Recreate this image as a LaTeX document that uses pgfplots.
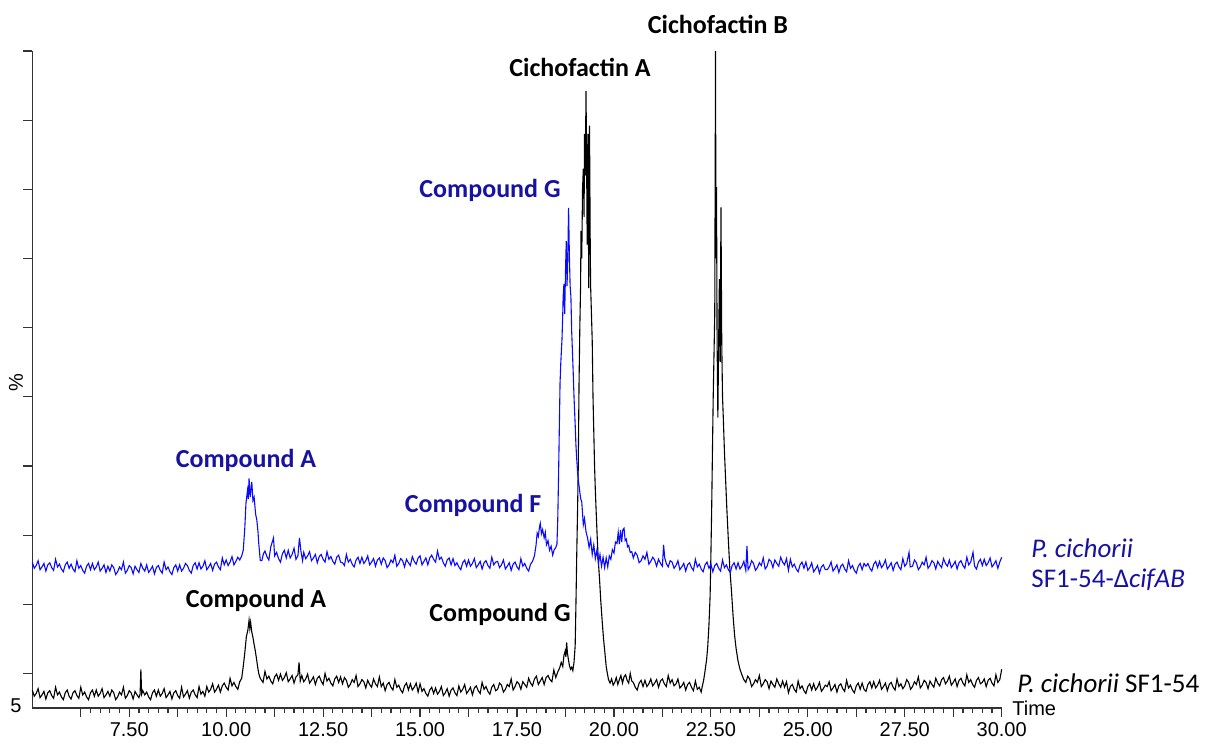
\documentclass[border=0pt]{standalone}
\usepackage{fontspec}
\setmainfont{Liberation Sans}
\newfontfamily\carlito{Carlito}
\usepackage{pgfplots}
\pgfplotsset{compat=1.18}
\definecolor{lblblue}{RGB}{24,18,160}
\definecolor{trblue}{RGB}{10,10,255}

\begin{document}
\begin{tikzpicture}
\path[use as bounding box] (0,0) rectangle (604.5pt,372pt);
\begin{axis}[
  at={(16.15pt,18pt)}, anchor=south west,
  scale only axis,
  width=484.7pt, height=328.5pt,
  xmin=5, xmax=30, ymin=5, ymax=100,
  axis x line*=bottom, axis y line*=left,
  axis line style={black!80, line width=0.7pt},
  xtick={6.25,7.5,...,30},
  xticklabels={,7.50,,10.00,,12.50,,15.00,,17.50,,20.00,,22.50,,25.00,,27.50,,30.00},
  minor x tick num=4,
  ytick={10,20,...,100},
  yticklabels={},
  tick align=outside,
  major tick length=4.5pt, minor tick length=2.6pt,
  every tick/.style={black!80, line width=0.6pt},
  xticklabel style={font=\fontsize{10}{12}\selectfont, yshift=1pt},
  clip=false,
]
% P. cichorii SF1-54 (black)
\addplot[black, line width=0.55pt] coordinates {
(5.00,7.6)(5.05,6.7)(5.10,7.1)(5.15,7.8)(5.20,6.5)(5.25,6.9)(5.30,7.4)(5.35,6.3)(5.40,7.2)(5.45,7.5)
(5.50,6.8)(5.55,6.4)(5.60,8.0)(5.65,6.9)(5.70,7.3)(5.75,6.6)(5.80,6.2)(5.85,7.2)(5.90,7.6)(5.95,6.7)
(6.00,6.3)(6.05,7.2)(6.10,7.5)(6.15,6.8)(6.20,6.4)(6.25,8.0)(6.30,6.9)(6.35,7.3)(6.40,6.6)(6.45,6.2)
(6.50,7.2)(6.55,7.6)(6.60,6.7)(6.65,7.6)(6.70,6.7)(6.75,7.1)(6.80,7.8)(6.85,6.5)(6.90,6.9)(6.95,7.4)
(7.00,6.7)(7.05,7.6)(7.10,7.2)(7.15,6.2)(7.20,6.6)(7.25,7.3)(7.30,6.9)(7.35,8.0)(7.40,6.4)(7.45,6.8)
(7.50,7.5)(7.55,7.2)(7.60,6.3)(7.65,7.4)(7.70,6.9)(7.75,6.5)(7.78,7.0)(7.80,10.6)(7.82,7.0)(7.85,7.5)
(7.90,6.9)(7.95,7.3)(8.00,6.6)(8.05,6.2)(8.10,7.2)(8.15,7.6)(8.20,6.7)(8.25,7.6)(8.30,6.7)(8.35,7.1)
(8.40,7.8)(8.45,6.5)(8.50,6.9)(8.55,7.4)(8.60,6.3)(8.65,7.2)(8.70,7.5)(8.75,6.8)(8.80,6.4)(8.85,8.0)
(8.90,6.6)(8.95,7.0)(9.00,7.5)(9.05,6.4)(9.10,7.3)(9.15,7.6)(9.20,6.9)(9.25,6.5)(9.30,8.1)(9.35,7.0)
(9.40,7.4)(9.45,6.7)(9.50,8.1)(9.55,7.3)(9.60,7.7)(9.65,8.5)(9.70,7.3)(9.75,7.7)(9.80,8.3)(9.85,7.3)
(9.90,8.2)(9.95,8.6)(10.00,8.0)(10.05,7.6)(10.10,9.3)(10.15,8.2)(10.20,8.7)(10.25,8.1)(10.30,7.7)(10.35,8.8)
(10.40,9.3)(10.44,11.0)(10.48,13.0)(10.52,15.3)(10.56,16.3)(10.59,17.7)(10.61,16.5)(10.63,17.4)(10.66,16.0)(10.69,15.2)
(10.72,14.2)(10.75,13.3)(10.78,12.2)(10.81,11.0)(10.84,10.0)(10.87,9.4)(10.90,9.1)(10.95,8.7)(11.00,10.3)(11.05,9.2)
(11.10,9.6)(11.15,8.9)(11.20,8.5)(11.25,9.5)(11.30,9.9)(11.35,9.0)(11.40,9.9)(11.45,9.0)(11.50,9.4)(11.55,10.1)
(11.60,8.8)(11.65,9.2)(11.70,9.7)(11.75,8.6)(11.80,9.5)(11.85,9.8)(11.88,11.6)(11.91,8.9)(11.95,9.7)(12.00,8.8)
(12.05,9.2)(12.10,9.9)(12.15,8.6)(12.20,9.0)(12.25,9.5)(12.30,8.4)(12.35,9.3)(12.40,9.6)(12.45,8.9)(12.50,8.4)
(12.55,10.0)(12.60,8.9)(12.65,9.3)(12.70,8.6)(12.75,8.2)(12.80,9.2)(12.85,9.6)(12.90,8.7)(12.95,9.5)(13.00,8.5)
(13.05,9.4)(13.10,9.0)(13.15,8.0)(13.20,8.4)(13.25,9.1)(13.30,8.7)(13.35,9.7)(13.40,8.1)(13.45,8.5)(13.50,9.1)
(13.55,8.8)(13.60,7.9)(13.65,9.0)(13.70,8.4)(13.75,8.0)(13.80,9.2)(13.85,8.5)(13.90,8.1)(13.95,9.5)(14.00,8.1)
(14.05,8.6)(14.10,7.5)(14.15,8.4)(14.20,8.7)(14.25,8.0)(14.30,7.6)(14.35,9.1)(14.40,8.0)(14.45,8.3)(14.50,7.6)
(14.55,7.2)(14.60,8.2)(14.65,8.6)(14.70,7.6)(14.75,8.5)(14.80,7.6)(14.85,8.0)(14.90,8.6)(14.95,7.3)(15.00,8.5)
(15.05,7.4)(15.10,7.8)(15.15,7.1)(15.20,6.7)(15.25,7.6)(15.30,8.0)(15.35,7.1)(15.40,7.9)(15.45,7.0)(15.50,7.4)
(15.55,8.1)(15.60,6.8)(15.65,7.2)(15.70,7.8)(15.75,6.7)(15.80,7.6)(15.85,7.9)(15.90,7.2)(15.95,6.8)(16.00,8.2)
(16.05,7.3)(16.10,7.7)(16.15,8.4)(16.20,7.1)(16.25,7.5)(16.30,8.0)(16.35,6.9)(16.40,7.9)(16.45,8.2)(16.50,7.5)
(16.55,7.1)(16.60,8.7)(16.65,7.7)(16.70,8.1)(16.75,7.4)(16.80,7.0)(16.85,8.0)(16.90,8.4)(16.95,7.5)(17.00,7.7)
(17.05,8.6)(17.10,8.3)(17.15,7.3)(17.20,7.7)(17.25,8.4)(17.30,8.1)(17.35,9.2)(17.40,7.6)(17.45,8.1)(17.50,8.8)
(17.55,8.5)(17.60,7.7)(17.65,8.8)(17.70,8.4)(17.75,8.0)(17.80,9.3)(17.85,8.6)(17.90,8.2)(17.95,9.2)(18.00,9.6)
(18.05,8.4)(18.10,8.9)(18.15,9.4)(18.20,8.4)(18.25,9.4)(18.30,9.7)(18.35,9.1)(18.40,8.8)(18.45,10.5)(18.50,9.4)
(18.55,10.2)(18.60,10.8)(18.64,11.6)(18.68,11.0)(18.71,12.6)(18.74,13.2)(18.76,12.4)(18.78,14.5)(18.80,13.0)(18.82,12.2)
(18.85,11.2)(18.88,10.6)(18.91,10.9)(18.94,10.4)(18.97,11.6)(19.00,14.0)(19.02,20.0)(19.04,27.0)(19.06,33.0)(19.08,40.0)
(19.10,52.0)(19.12,60.0)(19.14,66.0)(19.15,74.0)(19.17,70.0)(19.19,80.0)(19.21,83.0)(19.23,76.0)(19.24,88.0)(19.26,82.0)
(19.28,94.2)(19.30,80.0)(19.31,72.0)(19.33,88.0)(19.35,65.7)(19.37,89.2)(19.39,70.6)(19.40,65.7)(19.42,62.0)(19.44,58.0)
(19.46,50.0)(19.48,45.0)(19.50,40.0)(19.52,36.5)(19.54,33.6)(19.57,29.5)(19.60,26.0)(19.63,23.5)(19.66,20.5)(19.70,17.3)
(19.73,15.1)(19.77,12.8)(19.80,11.0)(19.83,10.0)(19.86,9.1)(19.90,8.6)(19.94,9.2)(19.98,8.3)(20.02,8.7)(20.06,9.4)
(20.10,8.4)(20.14,9.1)(20.18,9.7)(20.22,8.6)(20.26,9.5)(20.30,9.8)(20.34,9.0)(20.38,8.6)(20.42,10.0)(20.46,8.9)
(20.50,8.7)(20.55,8.0)(20.60,7.6)(20.65,8.6)(20.70,9.0)(20.75,8.1)(20.80,9.0)(20.85,8.1)(20.90,8.5)(20.95,9.2)
(21.00,8.2)(21.05,8.6)(21.10,9.1)(21.15,8.0)(21.20,8.9)(21.25,9.2)(21.30,8.5)(21.35,8.1)(21.40,9.7)(21.45,8.6)
(21.50,9.1)(21.55,8.2)(21.60,8.5)(21.65,9.2)(21.70,7.9)(21.75,8.2)(21.80,8.7)(21.85,7.6)(21.90,8.4)(21.95,8.7)
(22.00,8.0)(22.05,7.5)(22.10,8.9)(22.15,7.7)(22.20,8.0)(22.25,7.3)(22.28,8.2)(22.31,8.9)(22.34,10.0)(22.37,11.2)
(22.39,12.0)(22.42,14.0)(22.45,17.0)(22.48,21.2)(22.50,27.0)(22.52,33.6)(22.54,42.0)(22.56,50.0)(22.58,56.0)(22.60,62.0)
(22.62,100.0)(22.63,70.0)(22.645,80.3)(22.66,58.0)(22.68,47.0)(22.70,58.0)(22.72,67.0)(22.74,55.0)(22.76,77.4)(22.78,58.0)
(22.80,50.0)(22.82,47.0)(22.85,42.0)(22.88,38.0)(22.91,34.0)(22.95,29.3)(22.99,25.0)(23.03,22.0)(23.07,18.5)(23.11,15.6)
(23.15,13.6)(23.20,11.8)(23.25,10.6)(23.30,9.8)(23.35,9.1)(23.40,8.7)(23.45,9.6)(23.50,9.2)(23.55,8.1)(23.60,8.5)
(23.65,9.1)(23.70,8.7)(23.75,9.7)(23.80,8.1)(23.85,8.5)(23.90,9.1)(23.95,8.8)(24.00,7.8)(24.05,8.9)(24.10,8.4)
(24.15,8.0)(24.20,9.2)(24.25,8.5)(24.30,8.0)(24.35,8.9)(24.40,8.0)(24.45,8.8)(24.50,7.2)(24.55,8.1)(24.60,8.4)
(24.65,7.7)(24.70,7.3)(24.75,8.9)(24.80,7.8)(24.85,8.2)(24.90,7.5)(24.95,7.1)(25.00,8.1)(25.05,8.5)(25.10,7.6)
(25.15,8.5)(25.20,7.6)(25.25,8.0)(25.30,8.7)(25.35,7.4)(25.40,7.8)(25.45,8.3)(25.50,8.1)(25.55,8.8)(25.60,7.5)
(25.65,7.9)(25.70,8.4)(25.75,7.3)(25.80,8.2)(25.85,8.5)(25.90,7.8)(25.95,7.4)(26.00,9.0)(26.05,7.9)(26.10,8.3)
(26.15,7.6)(26.20,7.2)(26.25,8.2)(26.30,8.6)(26.35,7.7)(26.40,8.6)(26.45,7.7)(26.50,7.4)(26.55,8.4)(26.60,8.8)
(26.65,7.9)(26.70,8.8)(26.75,7.9)(26.80,8.3)(26.85,9.0)(26.90,7.7)(26.95,8.1)(27.00,8.6)(27.05,7.5)(27.10,8.4)
(27.15,8.7)(27.20,8.0)(27.25,7.6)(27.30,9.2)(27.35,8.1)(27.40,8.5)(27.45,7.8)(27.50,8.2)(27.55,9.1)(27.60,8.7)
(27.65,7.7)(27.70,8.1)(27.75,8.8)(27.80,8.4)(27.85,9.5)(27.90,7.9)(27.95,8.3)(28.00,9.0)(28.05,8.7)(28.10,7.8)
(28.15,8.9)(28.20,8.4)(28.25,8.0)(28.30,9.3)(28.35,8.6)(28.40,8.2)(28.45,9.1)(28.50,9.4)(28.55,8.5)(28.60,8.9)
(28.65,9.6)(28.70,8.3)(28.75,8.7)(28.80,9.2)(28.85,8.1)(28.90,9.0)(28.95,9.3)(29.00,8.6)(29.05,8.2)(29.10,9.8)
(29.15,8.7)(29.20,9.1)(29.25,8.4)(29.30,8.0)(29.35,9.0)(29.40,9.4)(29.45,8.5)(29.50,8.7)(29.55,9.2)(29.60,8.1)
(29.65,9.0)(29.70,9.3)(29.75,8.6)(29.80,8.2)(29.85,9.8)(29.90,8.7)(29.95,9.1)(30.00,10.6)
};
% P. cichorii SF1-54-DcifAB (blue)
\addplot[trblue, line width=0.55pt] coordinates {
(5.00,26.1)(5.05,25.2)(5.10,25.6)(5.15,26.3)(5.20,25.0)(5.25,25.4)(5.30,25.9)(5.35,24.8)(5.40,25.7)(5.45,26.0)
(5.50,25.3)(5.55,24.9)(5.60,26.5)(5.65,25.4)(5.70,25.8)(5.75,25.1)(5.80,24.7)(5.85,25.7)(5.90,26.1)(5.95,25.2)
(6.00,25.8)(6.05,25.1)(6.10,24.7)(6.15,26.3)(6.20,25.2)(6.25,25.6)(6.30,24.9)(6.35,24.5)(6.40,25.5)(6.45,25.9)
(6.50,25.0)(6.55,25.9)(6.60,25.0)(6.65,25.4)(6.70,26.1)(6.75,24.8)(6.80,25.2)(6.85,25.7)(6.90,24.6)(6.95,25.5)
(7.00,24.8)(7.05,25.7)(7.10,25.3)(7.15,24.3)(7.20,24.7)(7.25,25.4)(7.30,25.0)(7.35,26.1)(7.40,24.5)(7.45,24.9)
(7.50,25.6)(7.55,25.3)(7.60,24.4)(7.65,25.5)(7.70,25.0)(7.75,24.6)(7.80,25.9)(7.85,25.2)(7.90,24.8)(7.95,25.7)
(8.00,24.6)(8.05,25.0)(8.10,25.5)(8.15,24.4)(8.20,25.3)(8.25,25.6)(8.30,24.9)(8.35,24.5)(8.40,26.1)(8.45,25.0)
(8.50,25.4)(8.55,24.7)(8.60,24.3)(8.65,25.3)(8.70,25.7)(8.75,24.8)(8.80,25.7)(8.85,24.8)(8.90,25.2)(8.95,25.9)
(9.00,25.6)(9.05,24.9)(9.10,24.5)(9.15,25.6)(9.20,26.0)(9.25,25.1)(9.30,26.0)(9.35,25.1)(9.40,25.5)(9.45,26.3)
(9.50,25.0)(9.55,25.4)(9.60,25.9)(9.65,24.9)(9.70,25.8)(9.75,26.1)(9.80,25.4)(9.85,25.0)(9.90,26.7)(9.95,25.7)
(10.00,26.4)(10.05,25.6)(10.10,26.1)(10.15,26.9)(10.20,25.7)(10.25,26.2)(10.30,26.8)(10.35,26.4)(10.40,27.0)(10.44,27.8)
(10.48,31.0)(10.51,34.6)(10.55,36.5)(10.57,35.2)(10.59,38.2)(10.62,35.5)(10.66,37.7)(10.69,35.0)(10.72,35.5)(10.76,33.0)
(10.79,32.2)(10.82,30.5)(10.84,28.8)(10.88,26.3)(10.92,26.3)(10.96,27.3)(11.00,27.7)(11.05,26.9)(11.10,26.4)(11.15,28.3)
(11.22,29.6)(11.25,27.0)(11.30,27.5)(11.35,26.6)(11.40,26.1)(11.45,27.3)(11.50,27.8)(11.55,26.7)(11.60,27.8)(11.65,26.7)
(11.70,27.2)(11.75,28.1)(11.80,26.5)(11.85,27.0)(11.89,29.6)(11.93,27.6)(11.97,26.3)(12.00,27.5)(12.05,26.6)(12.10,27.0)
(12.15,27.6)(12.20,26.3)(12.25,26.7)(12.30,27.2)(12.35,26.0)(12.40,26.9)(12.45,27.2)(12.50,26.5)(12.55,26.1)(12.60,27.6)
(12.65,26.5)(12.70,26.9)(12.75,26.2)(12.80,25.8)(12.85,26.8)(12.90,27.1)(12.95,26.1)(13.00,26.0)(13.05,25.6)(13.10,27.2)
(13.15,26.1)(13.20,26.5)(13.25,25.8)(13.30,25.4)(13.35,26.4)(13.40,26.8)(13.45,25.9)(13.50,26.8)(13.55,25.9)(13.60,26.3)
(13.65,27.0)(13.70,25.7)(13.75,26.1)(13.80,26.6)(13.85,25.5)(13.90,26.4)(13.95,26.7)(14.00,25.8)(14.05,26.7)(14.10,26.3)
(14.15,25.3)(14.20,25.7)(14.25,26.4)(14.30,26.0)(14.35,27.1)(14.40,25.5)(14.45,25.9)(14.50,26.6)(14.55,26.3)(14.60,25.4)
(14.65,26.5)(14.70,26.0)(14.75,25.6)(14.80,26.9)(14.85,26.2)(14.90,25.8)(14.95,26.7)(15.00,27.0)(15.05,25.7)(15.10,26.2)
(15.15,26.7)(15.20,25.7)(15.25,26.7)(15.30,27.1)(15.35,26.5)(15.40,26.1)(15.45,27.7)(15.50,26.5)(15.55,26.8)(15.60,26.0)
(15.65,25.5)(15.70,26.4)(15.75,26.7)(15.80,25.7)(15.85,26.6)(15.90,25.6)(15.95,26.0)(16.00,25.4)(16.05,25.0)(16.10,26.0)
(16.15,26.4)(16.20,25.5)(16.25,26.4)(16.30,25.5)(16.35,25.9)(16.40,26.6)(16.45,25.3)(16.50,25.7)(16.55,26.2)(16.60,25.1)
(16.65,26.0)(16.70,26.3)(16.75,25.6)(16.80,25.2)(16.85,26.8)(16.90,25.7)(16.95,26.1)(17.00,26.2)(17.05,25.3)(17.10,25.7)
(17.15,26.4)(17.20,25.1)(17.25,25.5)(17.30,26.0)(17.35,24.9)(17.40,25.8)(17.45,26.1)(17.50,25.4)(17.55,25.0)(17.60,26.6)
(17.65,25.5)(17.70,25.9)(17.75,25.2)(17.80,24.8)(17.85,25.8)(17.90,26.2)(17.95,27.0)(17.99,28.5)(18.02,30.3)(18.05,29.8)
(18.08,31.2)(18.10,31.7)(18.13,30.2)(18.16,30.8)(18.20,29.6)(18.23,30.4)(18.26,28.6)(18.30,29.2)(18.34,27.8)(18.38,28.4)
(18.42,27.1)(18.46,27.9)(18.50,28.2)(18.53,28.7)(18.55,32.0)(18.57,38.0)(18.59,45.0)(18.61,52.0)(18.63,55.0)(18.66,58.3)
(18.68,62.0)(18.69,64.5)(18.71,66.3)(18.73,62.0)(18.75,68.0)(18.77,72.5)(18.79,66.0)(18.81,70.0)(18.83,77.3)(18.85,70.6)
(18.87,66.0)(18.89,64.5)(18.91,59.5)(18.93,56.5)(18.95,53.4)(18.97,50.0)(19.00,46.0)(19.02,43.0)(19.04,41.0)(19.07,38.5)
(19.11,36.7)(19.14,35.3)(19.17,34.8)(19.21,31.5)(19.24,32.4)(19.28,30.5)(19.32,29.6)(19.36,28.2)(19.40,29.4)(19.44,27.2)
(19.48,28.6)(19.52,26.6)(19.56,27.8)(19.60,25.9)(19.64,27.2)(19.68,25.5)(19.72,26.8)(19.76,25.3)(19.80,26.7)(19.84,25.4)
(19.88,27.0)(19.92,26.5)(19.96,27.9)(20.00,27.4)(20.04,29.0)(20.08,28.8)(20.11,30.4)(20.14,28.7)(20.17,30.7)(20.20,29.0)
(20.23,30.8)(20.26,31.0)(20.29,29.2)(20.32,29.4)(20.35,28.3)(20.38,28.5)(20.42,27.5)(20.46,27.6)(20.50,26.7)(20.55,27.5)
(20.60,27.1)(20.65,26.0)(20.70,26.3)(20.75,27.0)(20.80,26.5)(20.85,27.5)(20.90,25.8)(20.95,26.2)(21.00,26.8)(21.05,26.4)
(21.10,25.5)(21.15,26.5)(21.20,25.9)(21.25,25.5)(21.28,28.6)(21.31,26.7)(21.35,25.9)(21.40,25.4)(21.45,26.3)(21.50,26.1)
(21.55,25.2)(21.60,25.6)(21.65,26.3)(21.70,25.0)(21.75,25.4)(21.80,25.9)(21.85,24.8)(21.90,25.7)(21.95,26.0)(22.00,25.3)
(22.05,24.9)(22.10,26.5)(22.15,25.4)(22.20,25.8)(22.25,25.1)(22.30,24.7)(22.35,25.7)(22.40,26.1)(22.45,25.2)(22.50,25.8)
(22.55,24.7)(22.60,25.6)(22.65,25.9)(22.70,25.2)(22.75,24.8)(22.80,26.4)(22.85,25.3)(22.90,25.7)(22.95,25.0)(23.00,24.6)
(23.05,25.6)(23.10,26.0)(23.15,25.1)(23.20,26.0)(23.25,25.1)(23.30,25.5)(23.35,26.2)(23.40,24.9)(23.43,28.4)(23.46,25.0)
(23.50,25.4)(23.55,26.3)(23.60,25.9)(23.65,24.9)(23.70,25.3)(23.75,26.0)(23.80,25.6)(23.85,26.7)(23.90,25.1)(23.95,25.5)
(24.00,26.5)(24.05,26.2)(24.10,25.3)(24.15,26.4)(24.20,25.9)(24.25,25.5)(24.30,26.8)(24.35,26.1)(24.40,25.7)(24.45,26.6)
(24.50,24.9)(24.55,26.5)(24.60,25.4)(24.65,25.8)(24.70,25.1)(24.75,24.7)(24.80,25.7)(24.85,26.1)(24.90,25.2)(24.95,26.1)
(25.00,24.9)(25.05,25.3)(25.10,26.0)(25.15,24.7)(25.20,25.1)(25.25,25.6)(25.30,24.5)(25.35,25.4)(25.40,25.7)(25.45,25.0)
(25.50,25.0)(25.55,25.4)(25.60,26.1)(25.65,24.8)(25.70,25.2)(25.75,25.7)(25.80,24.6)(25.85,25.5)(25.90,25.8)(25.95,25.1)
(26.00,24.7)(26.05,26.3)(26.10,25.2)(26.15,25.6)(26.20,24.9)(26.25,24.5)(26.30,25.5)(26.35,25.9)(26.40,25.0)(26.45,25.9)
(26.50,25.5)(26.55,25.9)(26.60,25.2)(26.65,24.8)(26.70,25.8)(26.75,26.2)(26.80,25.3)(26.85,26.2)(26.90,25.3)(26.95,25.7)
(27.00,26.4)(27.05,25.1)(27.10,25.5)(27.15,26.0)(27.20,24.9)(27.25,25.8)(27.30,26.1)(27.35,25.4)(27.40,25.0)(27.45,26.6)
(27.50,25.5)(27.55,25.9)(27.61,27.5)(27.64,25.4)(27.70,25.5)(27.75,26.4)(27.80,26.0)(27.85,25.0)(27.90,25.4)(27.95,26.1)
(28.00,25.7)(28.05,26.8)(28.10,25.2)(28.15,25.6)(28.20,26.3)(28.25,26.0)(28.30,25.1)(28.35,26.2)(28.40,25.7)(28.45,25.3)
(28.50,26.6)(28.55,25.9)(28.60,25.5)(28.65,26.4)(28.70,25.3)(28.75,25.7)(28.80,26.2)(28.85,25.1)(28.90,26.0)(28.95,26.3)
(29.00,25.6)(29.05,25.2)(29.10,26.8)(29.15,25.7)(29.20,26.1)(29.26,27.5)(29.30,25.5)(29.35,25.1)(29.40,26.1)(29.45,26.5)
(29.50,25.6)(29.55,26.5)(29.60,25.6)(29.65,26.0)(29.70,26.7)(29.75,25.4)(29.80,25.8)(29.85,26.3)(29.90,25.2)(29.95,26.1)
(30.00,26.8)
};
\end{axis}
% peak labels
\begin{scope}[font=\carlito\bfseries\fontsize{13}{15}\selectfont]
\node at (359pt,360pt) {Cichofactin B};
\node at (290pt,338.5pt) {Cichofactin A};
\node[lblblue] at (245pt,277pt) {Compound G};
\node[lblblue] at (123pt,142pt) {Compound A};
\node[lblblue] at (236.5pt,119.5pt) {Compound F};
\node at (128pt,72pt) {Compound A};
\node at (250pt,65pt) {Compound G};
\end{scope}
% trace labels
\begin{scope}[font=\carlito\fontsize{13.5}{16}\selectfont]
\node[lblblue, anchor=west, inner sep=0pt] at (515.5pt,98pt) {\itshape P. cichorii};
\node[lblblue, anchor=west, inner sep=0pt] at (515.5pt,82pt) {SF1-54-Δ\textit{cifAB}};
\node[anchor=west, inner sep=0pt] at (508.5pt,30.5pt) {\textit{P. cichorii} SF1-54};
\end{scope}
\node[anchor=west, inner sep=0pt, font=\fontsize{10}{12}\selectfont] at (506pt,18pt) {Time};
\node[rotate=90, font=\fontsize{10}{12}\selectfont] at (8pt,180.5pt) {\%};
\node[font=\fontsize{10}{12}\selectfont] at (8pt,19pt) {5};
\end{tikzpicture}
\end{document}
